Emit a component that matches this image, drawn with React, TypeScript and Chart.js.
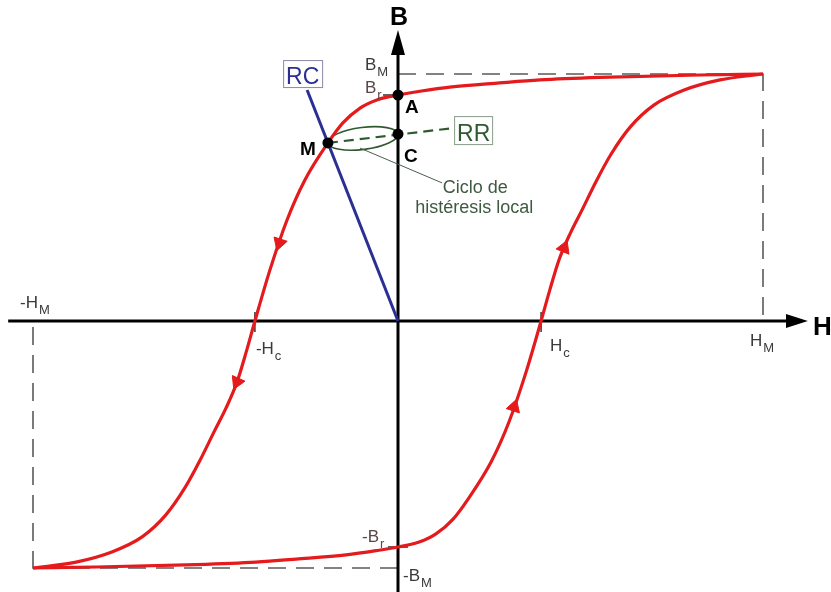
import React, { useEffect, useRef } from "react";
import { Chart, registerables } from "chart.js";

Chart.register(...registerables);

// ---- characteristic values (B_M = 1, H_M = 1) ----
const H_M = 1.0;
const B_M = 1.0;
const H_C = 0.392;
const B_R = 0.915;

// descending branch (from +H_M,+B_M down to -H_M,-B_M)
const descH = [1.0, 0.827, 0.553, 0.389, 0.279, 0.142, 0.06, 0, -0.058, -0.104, -0.151, -0.192, -0.255, -0.304, -0.351, -0.392, -0.416, -0.441, -0.471, -0.504, -0.542, -0.584, -0.636, -0.701, -0.784, -0.882, -1.0];
const descB = [1.0, 0.996, 0.986, 0.976, 0.964, 0.947, 0.93, 0.915, 0.895, 0.862, 0.802, 0.721, 0.571, 0.409, 0.206, 0, -0.126, -0.247, -0.352, -0.449, -0.563, -0.676, -0.785, -0.874, -0.935, -0.976, -1.0];

// ascending branch (from -H_M,-B_M up to +H_M,+B_M)
const ascH = [-1.0, -0.827, -0.553, -0.389, -0.279, -0.142, -0.06, 0, 0.058, 0.104, 0.151, 0.192, 0.255, 0.304, 0.351, 0.392, 0.416, 0.441, 0.471, 0.504, 0.542, 0.584, 0.636, 0.701, 0.784, 0.882, 1.0];
const ascB = [-1.0, -0.996, -0.986, -0.976, -0.964, -0.947, -0.93, -0.915, -0.895, -0.862, -0.802, -0.721, -0.571, -0.409, -0.206, 0, 0.126, 0.247, 0.352, 0.449, 0.563, 0.676, 0.785, 0.874, 0.935, 0.976, 1.0];

// direction arrows on the loop
const arrowH = [-0.325, -0.441, 0.318, 0.455];
const arrowB = [0.316, -0.247, -0.348, 0.296];
const arrowRot = [198, 204, 18, 22];

// marked points A, C, M
const ptLabels = ["A", "C", "M"];
const ptH = [0, 0, -0.192];
const ptB = [0.915, 0.757, 0.721];

// RC line (origin to top) and RR line (M through C)
const rcH = [0, -0.249];
const rcB = [0, 0.935];
const rrH = [-0.192, 0.151];
const rrB = [0.721, 0.781];

// leader line to "Ciclo de histéresis local"
const leaderH = [-0.104, 0.121];
const leaderB = [0.7, 0.559];

// axes extents
const H_AXIS_START = -1.068;
const H_ARROW_BASE = 1.063;
const H_ARROW_TIP = 1.123;
const B_AXIS_START = -1.1;
const B_ARROW_BASE = 1.077;
const B_ARROW_TIP = 1.178;

// view window
const X_MIN = -1.0904;
const X_MAX = 1.1863;
const Y_MIN = -1.0972;
const Y_MAX = 1.2996;

const FONT = '"Liberation Sans", Arial, Helvetica, sans-serif';
const RED = "#e41a1c";
const GREEN = "#2f5a30";
const BLUE = "#2b2f93";

const xy = (hs: number[], bs: number[]) => hs.map((h, i) => ({ x: h, y: bs[i] }));

function drawSub(ctx: CanvasRenderingContext2D, main: string, sub: string, x: number, y: number, color: string, size = 17, subSize = 13) {
  ctx.fillStyle = color;
  ctx.textAlign = "left";
  ctx.textBaseline = "alphabetic";
  ctx.font = `${size}px ${FONT}`;
  ctx.fillText(main, x, y);
  const w = ctx.measureText(main).width;
  ctx.font = `${subSize}px ${FONT}`;
  ctx.fillText(sub, x + w + 1, y + 6);
}

const overlay = {
  id: "overlay",
  beforeDatasetsDraw(chart: any) {
    const { ctx, scales } = chart;
    const px = (v: number) => scales.x.getPixelForValue(v);
    const py = (v: number) => scales.y.getPixelForValue(v);
    ctx.save();
    // local hysteresis ellipse between M and C
    const mx = px(ptH[2]), my = py(ptB[2]);
    const cx = px(ptH[1]), cy = py(ptB[1]);
    const ang = Math.atan2(cy - my, cx - mx);
    const rx = Math.hypot(cx - mx, cy - my) / 2;
    ctx.beginPath();
    ctx.ellipse((mx + cx) / 2, (my + cy) / 2, rx, 11, ang, 0, Math.PI * 2);
    ctx.strokeStyle = GREEN;
    ctx.lineWidth = 1.6;
    ctx.stroke();

    // ticks
    ctx.strokeStyle = "#333";
    ctx.lineWidth = 1.5;
    const y0 = py(0);
    [-H_C, H_C].forEach((h) => {
      ctx.beginPath();
      ctx.moveTo(px(h), y0 - 9);
      ctx.lineTo(px(h), y0 + 11);
      ctx.stroke();
    });
    const x0 = px(0);
    ctx.beginPath();
    ctx.moveTo(x0 - 15, py(B_R));
    ctx.lineTo(x0, py(B_R));
    ctx.moveTo(x0 - 10, py(-B_R));
    ctx.lineTo(x0 + 10, py(-B_R));
    ctx.stroke();
    ctx.restore();
  },
  afterDatasetsDraw(chart: any) {
    const { ctx, scales } = chart;
    const px = (v: number) => scales.x.getPixelForValue(v);
    const py = (v: number) => scales.y.getPixelForValue(v);
    ctx.save();
    const x0 = px(0), y0 = py(0);

    // axis arrowheads
    ctx.fillStyle = "#000";
    ctx.beginPath();
    ctx.moveTo(px(H_ARROW_TIP), y0);
    ctx.lineTo(px(H_ARROW_BASE), y0 - 7);
    ctx.lineTo(px(H_ARROW_BASE), y0 + 7);
    ctx.closePath();
    ctx.fill();
    ctx.beginPath();
    ctx.moveTo(x0, py(B_ARROW_TIP));
    ctx.lineTo(x0 - 7, py(B_ARROW_BASE));
    ctx.lineTo(x0 + 7, py(B_ARROW_BASE));
    ctx.closePath();
    ctx.fill();

    // axis names
    ctx.font = `bold 26px ${FONT}`;
    ctx.textAlign = "left";
    ctx.textBaseline = "alphabetic";
    ctx.fillText("H", px(H_ARROW_TIP) + 5, y0 + 14);
    ctx.font = `bold 25px ${FONT}`;
    ctx.textAlign = "center";
    ctx.fillText("B", x0 + 1, py(B_ARROW_TIP) - 5);

    // characteristic labels
    const grey = "#3a3a3a";
    const brown = "#5a4646";
    drawSub(ctx, "-H", "M", px(-H_M) - 13, y0 - 13, grey);
    drawSub(ctx, "-H", "c", px(-H_C) + 1, y0 + 33, grey);
    drawSub(ctx, "H", "c", px(H_C) + 9, y0 + 30, grey);
    drawSub(ctx, "H", "M", px(H_M) - 13, y0 + 25, grey);
    drawSub(ctx, "B", "M", x0 - 33, py(B_M) - 4, grey);
    drawSub(ctx, "B", "r", x0 - 33, py(B_R) - 2, brown);
    drawSub(ctx, "-B", "r", x0 - 36, py(-B_R) - 5, brown);
    drawSub(ctx, "-B", "M", x0 + 5, py(-B_M) + 13, grey);

    // point labels
    ctx.fillStyle = "#000";
    ctx.font = `bold 19px ${FONT}`;
    ctx.textAlign = "left";
    ctx.fillText(ptLabels[0], px(ptH[0]) + 7, py(ptB[0]) + 18);
    ctx.fillText(ptLabels[1], px(ptH[1]) + 6, py(ptB[1]) + 28);
    ctx.textAlign = "right";
    ctx.fillText(ptLabels[2], px(ptH[2]) - 12, py(ptB[2]) + 12);

    // RC box
    const rcx = px(rcH[1]), rcy = py(rcB[1]);
    ctx.strokeStyle = "#8a8aa8";
    ctx.lineWidth = 1;
    ctx.strokeRect(rcx - 23.5, rcy - 29.5, 39, 27);
    ctx.fillStyle = BLUE;
    ctx.font = `23px ${FONT}`;
    ctx.textAlign = "left";
    ctx.fillText("RC", rcx - 21, rcy - 6);

    // RR box
    const rrx = px(rrH[1]), rry = py(rrB[1]);
    ctx.strokeStyle = "#8a9c8a";
    ctx.strokeRect(rrx + 1.5, rry - 11.5, 38, 28);
    ctx.fillStyle = GREEN;
    ctx.fillText("RR", rrx + 4, rry + 13);

    // local cycle caption
    const lx = px(leaderH[1]), ly = py(leaderB[1]);
    ctx.fillStyle = "#3f5a40";
    ctx.font = `18px ${FONT}`;
    ctx.textAlign = "center";
    ctx.fillText("Ciclo de", lx + 33, ly + 10);
    ctx.fillText("histéresis local", lx + 32, ly + 30);

    ctx.restore();
  },
};

export default function App() {
  const ref = useRef<HTMLCanvasElement | null>(null);

  useEffect(() => {
    document.body.style.margin = "0";
    const canvas = ref.current;
    if (!canvas) return;
    const dashed = { borderColor: "#5a5a5a", borderWidth: 1.6, borderDash: [18, 10], pointRadius: 0, showLine: true, fill: false };
    const chart = new Chart(canvas, {
      type: "scatter",
      data: {
        datasets: [
          { ...dashed, data: [{ x: 0, y: B_M }, { x: H_M, y: B_M }, { x: H_M, y: 0 }], order: 9 } as any,
          { ...dashed, data: [{ x: 0, y: -B_M }, { x: -H_M, y: -B_M }, { x: -H_M, y: 0 }], order: 9 } as any,
          { data: [{ x: H_AXIS_START, y: 0 }, { x: H_ARROW_BASE, y: 0 }], borderColor: "#000", borderWidth: 3, showLine: true, pointRadius: 0, order: 8 },
          { data: [{ x: 0, y: B_AXIS_START }, { x: 0, y: B_ARROW_BASE }], borderColor: "#000", borderWidth: 3, showLine: true, pointRadius: 0, order: 8 },
          { data: xy(leaderH, leaderB), borderColor: "#4a5c4a", borderWidth: 1, showLine: true, pointRadius: 0, order: 7 },
          { data: xy(rcH, rcB), borderColor: BLUE, borderWidth: 3, showLine: true, pointRadius: 0, order: 6 },
          { data: xy(rrH, rrB), borderColor: GREEN, borderWidth: 2.2, borderDash: [10, 6], showLine: true, pointRadius: 0, order: 5 } as any,
          { data: xy(descH, descB), borderColor: RED, borderWidth: 3.2, showLine: true, pointRadius: 0, cubicInterpolationMode: "monotone", order: 4 } as any,
          { data: xy(ascH, ascB), borderColor: RED, borderWidth: 3.2, showLine: true, pointRadius: 0, cubicInterpolationMode: "monotone", order: 4 } as any,
          { data: xy(arrowH, arrowB), pointStyle: "triangle", pointRadius: 8, pointRotation: arrowRot, backgroundColor: RED, borderColor: RED, borderWidth: 1, showLine: false, order: 2 } as any,
          { data: xy(ptH, ptB), pointStyle: "circle", pointRadius: 5.5, backgroundColor: "#000", borderColor: "#000", borderWidth: 0, showLine: false, order: 1 } as any,
        ],
      },
      options: {
        responsive: false,
        animation: false,
        layout: { padding: 0, autoPadding: false },
        events: [],
        scales: {
          x: { type: "linear", display: false, min: X_MIN, max: X_MAX },
          y: { type: "linear", display: false, min: Y_MIN, max: Y_MAX },
        },
        plugins: { legend: { display: false }, tooltip: { enabled: false } },
      } as any,
      plugins: [overlay],
    });
    return () => chart.destroy();
  }, []);

  return (
    <div style={{ position: "absolute", left: 0, top: 0, width: 831, height: 592, background: "#fff" }}>
      <canvas ref={ref} width={831} height={592} style={{ display: "block", width: 831, height: 592 }} />
    </div>
  );
}
